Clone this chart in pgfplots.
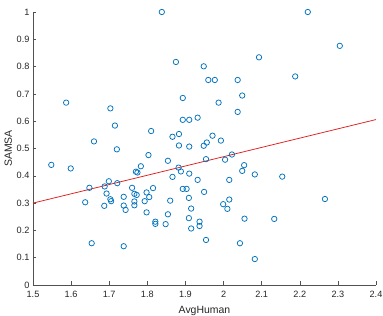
\documentclass[border=0pt]{standalone}
\usepackage{fontspec}
\setmainfont{Liberation Sans}
\usepackage{pgfplots}
\pgfplotsset{compat=1.18}
\definecolor{mblue}{RGB}{0,114,189}
\definecolor{mred}{RGB}{222,30,30}
\definecolor{axgray}{RGB}{38,38,38}
\begin{document}
\begin{tikzpicture}
\begin{axis}[
  name=ax,
  scale only axis,
  width=343bp, height=273bp,
  xmin=1.5, xmax=2.4, ymin=0, ymax=1,
  axis lines=left,
  axis line style={-, draw=axgray!80, line width=0.6pt},
  xtick={1.5,1.6,...,2.4},
  ytick={0,0.1,...,1},
  xticklabels={1.5,1.6,1.7,1.8,1.9,2,2.1,2.2,2.3,2.4},
  yticklabels={0,0.1,0.2,0.3,0.4,0.5,0.6,0.7,0.8,0.9,1},
  tick align=inside,
  major tick length=3.5bp,
  tick style={draw=axgray!80, line width=0.5pt},
  ticklabel style={font=\fontsize{9.2}{10}\selectfont, text=axgray},
  xticklabel style={yshift=-3bp},
  /pgf/number format/assume math mode=true,
  xlabel={AvgHuman}, ylabel={SAMSA},
  label style={font=\fontsize{10.5}{11}\selectfont, text=axgray},
  xlabel style={yshift=-1bp},
  ylabel style={yshift=-2bp},
  clip=false,
]
\addplot[only marks, mark=o, mark size=2.7bp, mark options={draw=mblue, line width=0.75pt}] coordinates {
(1.838,1.000)(1.875,0.817)(1.948,0.801)(1.960,0.751)(1.977,0.751)
(1.893,0.685)(1.587,0.668)(1.703,0.647)(1.893,0.605)(1.910,0.605)
(1.932,0.613)(1.715,0.584)(1.810,0.564)(1.866,0.543)(1.883,0.553)
(1.660,0.526)(1.883,0.511)(1.910,0.507)(1.948,0.510)(1.956,0.522)
(1.720,0.497)(2.221,1.000)(2.305,0.876)(2.093,0.834)(2.037,0.751)
(2.188,0.764)(2.049,0.694)(1.987,0.668)(2.037,0.634)(1.971,0.547)
(1.993,0.529)(1.548,0.440)(1.599,0.427)(1.770,0.415)(1.774,0.412)
(1.783,0.435)(1.803,0.476)(1.699,0.380)(1.721,0.373)(1.688,0.361)
(1.648,0.356)(1.760,0.356)(1.854,0.455)(1.882,0.430)(1.888,0.416)
(1.910,0.408)(1.866,0.396)(1.932,0.385)(1.815,0.355)(1.893,0.352)
(1.903,0.352)(1.693,0.335)(1.798,0.339)(1.949,0.341)(1.637,0.303)
(1.703,0.314)(1.705,0.307)(1.738,0.323)(1.805,0.322)(1.860,0.309)
(1.909,0.319)(1.687,0.290)(1.738,0.291)(1.743,0.275)(1.766,0.292)
(1.766,0.306)(1.793,0.307)(1.915,0.280)(1.798,0.266)(1.854,0.259)
(1.821,0.232)(1.821,0.224)(1.848,0.223)(1.909,0.245)(1.937,0.232)
(1.937,0.216)(1.915,0.207)(1.954,0.165)(1.654,0.153)(1.738,0.142)
(1.766,0.334)(1.772,0.330)(1.954,0.461)(2.004,0.459)(2.022,0.478)
(2.054,0.439)(2.049,0.418)(2.082,0.405)(2.154,0.397)(2.015,0.385)
(2.266,0.315)(1.999,0.296)(2.015,0.313)(2.010,0.279)(2.055,0.243)
(2.133,0.242)(2.043,0.153)(2.082,0.095)
};
\addplot[mred, line width=0.75pt] coordinates {(1.5,0.300)(2.4,0.606)};
\end{axis}
\pgfresetboundingbox
\path[use as bounding box] ([shift={(-33bp,-31bp)}]ax.south west) rectangle ([shift={(7bp,12bp)}]ax.north east);
\end{tikzpicture}
\end{document}
